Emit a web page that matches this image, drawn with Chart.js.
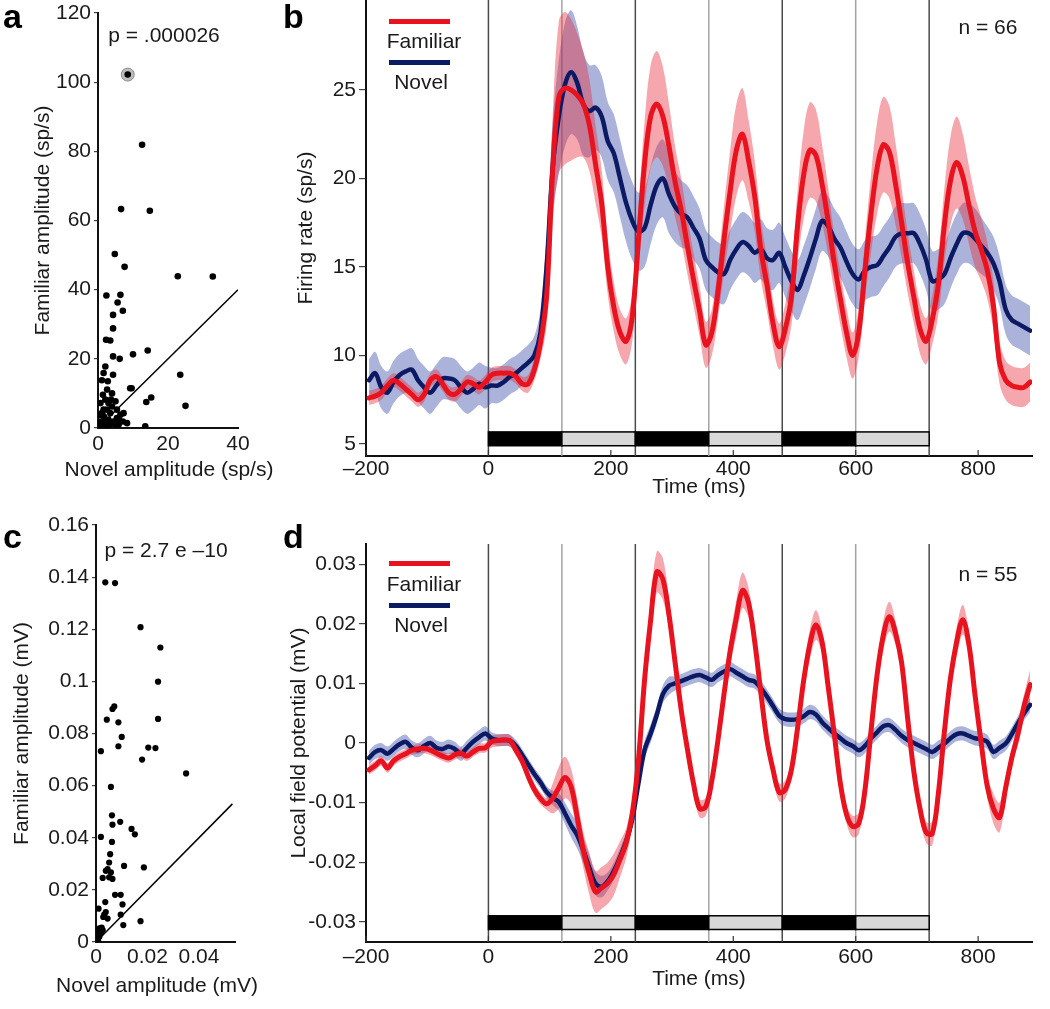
<!DOCTYPE html>
<html>
<head>
<meta charset="utf-8">
<script src="https://cdn.jsdelivr.net/npm/chart.js@4.4.1/dist/chart.umd.min.js"></script>
<style>
  body { margin: 0; background: #fff; width: 1050px; height: 1009px; position: relative; overflow: hidden;
         font-family: "Liberation Sans", Arial, Helvetica, sans-serif; color: #1a1a1a; }
  canvas { position: absolute; }
  .t { position: absolute; font-size: 21px; line-height: 1; white-space: nowrap; transform: translate(-50%, -50%); }
  .lab { position: absolute; font-size: 34px; font-weight: bold; line-height: 1; color: #000; }
  .seg { position: absolute; height: 5px; width: 61px; }
</style>
</head>
<body>
<canvas id="chartA" width="250" height="482" style="left:0;top:0"></canvas>
<canvas id="chartB" width="800" height="500" style="left:250px;top:0"></canvas>
<canvas id="chartC" width="250" height="500" style="left:0;top:500px"></canvas>
<canvas id="chartD" width="800" height="480" style="left:250px;top:520px"></canvas>

<div class="lab" style="left:3px;top:-1px">a</div>
<div class="lab" style="left:283px;top:-1px">b</div>
<div class="lab" style="left:3px;top:519px">c</div>
<div class="lab" style="left:283px;top:519px">d</div>

<div class="t" style="left:164px;top:34px">p = .000026</div>
<div class="t" style="left:169px;top:468px">Novel amplitude (sp/s)</div>
<div class="t" style="left:166px;top:549px">p = 2.7 e –10</div>
<div class="t" style="left:157px;top:984px">Novel amplitude (mV)</div>

<div class="seg" style="left:389px;top:19px;background:#e8131f"></div>
<div class="t" style="left:424px;top:40px">Familiar</div>
<div class="seg" style="left:389px;top:60px;background:#0c1a63"></div>
<div class="t" style="left:421px;top:81px">Novel</div>
<div class="t" style="left:988px;top:26px">n = 66</div>

<div class="seg" style="left:389px;top:561px;background:#e8131f"></div>
<div class="t" style="left:424px;top:583px">Familiar</div>
<div class="seg" style="left:389px;top:603px;background:#0c1a63"></div>
<div class="t" style="left:421px;top:624px">Novel</div>
<div class="t" style="left:988px;top:573px">n = 55</div>

<script>
// ---- scatter data (panel a: spikes, panel c: LFP) ----
const novelA = [8.5, 12.6, 6.6, 14.8, 4.8, 7.6, 22.8, 32.8, 2.4, 6.4,
  5.6, 7.1, 4.3, 4.3, 2.3, 3.5, 4.3, 6.2, 10, 14.2,
  2.1, 1.6, 4.3, 1.1, 23.5, 9.2, 2.6, 2.1, 3.7, 5,
  1.6, 15.2, 13.8, 25, 3.5, 6.4, 5.4, 0.7, 2.1, 3,
  4.5, 7.1, 0.2, 1.1, 13.5, 2.6, 5, 4, 0.7, 1.4,
  2.8, 4, 5.4, 7.3, 1.6, 3.5, 0.1, 5.9, 8.3, 2.6,
  1.1, 3.0, 9.6, 1.8, 6.0, 0.5];
const familiarA = [102.2, 81.9, 63.3, 62.8, 50.3, 46.6, 43.9, 43.8, 38.3, 38.5,
  36.3, 33.9, 32.7, 28.8, 25.5, 25.3, 20.7, 20, 21.3, 22.4,
  17.8, 15.9, 15.4, 13.8, 15.4, 11.5, 11.1, 8.2, 8.2, 7.7,
  5.3, 8.8, 7.5, 6.4, 4.3, 3.8, 2.9, 1.9, 1.4, 2.4,
  1.9, 1.9, 0.5, 1, 0.5, 0.5, 1, 6.2, 7.2, 9.6,
  13.5, 10, 5.3, 4.3, 3.4, 1, 1.4, 1, 1.4, 5.3,
  4.3, 7.2, 11.5, 3.0, 2.2, 3.8];
const circledA = [0];
const diagA = [0, 40];
const xTicksA = [0, 20, 40];
const yTicksA = [0, 20, 40, 60, 80, 100, 120];

const novelC = [0.0036, 0.0074, 0.0173, 0.025, 0.0241, 0.0071, 0.0064, 0.0042, 0.0087, 0.0241,
  0.0100, 0.0019, 0.0087, 0.0203, 0.0231, 0.0179, 0.0350, 0.0058, 0.0062, 0.0064,
  0.0094, 0.0138, 0.0151, 0.0019, 0.0062, 0.0055, 0.0051, 0.0109, 0.0186, 0.0045,
  0.0038, 0.0058, 0.0064, 0.0026, 0.0074, 0.0096, 0.0103, 0.0036, 0.0010, 0.0038,
  0.0028, 0.0096, 0.0106, 0.0173, 0.0013, 0.0026, 0.0006, 0.0019, 0.0003, 0.0013,
  0.0051, 0.0045, 0.0008, 0.0022, 0.0032];
const familiarC = [0.138, 0.1377, 0.1208, 0.113, 0.0999, 0.0904, 0.0894, 0.0853, 0.0843, 0.0856,
  0.0787, 0.0732, 0.0751, 0.0746, 0.0744, 0.0700, 0.0647, 0.0595, 0.0486, 0.0450,
  0.0461, 0.0434, 0.0413, 0.0403, 0.0384, 0.0337, 0.0305, 0.0292, 0.0286, 0.0280,
  0.0273, 0.0267, 0.0242, 0.0246, 0.0181, 0.0181, 0.0144, 0.0153, 0.0128, 0.0115,
  0.0096, 0.0105, 0.0065, 0.0080, 0.0052, 0.0046, 0.0033, 0.0035, 0.0014, 0.0020,
  0.0248, 0.0090, 0.0008, 0.0055, 0.0105];
const diagC = [0, 0.053];
const xTicksC = [0, 0.02, 0.04];
const yTicksC = [0, 0.02, 0.04, 0.06, 0.08, 0.1, 0.12, 0.14, 0.16];

// ---- time courses (10 ms samples) ----
const times = [-195, -185, -175, -165, -155, -145, -135, -125, -115, -105,
  -95, -85, -75, -65, -55, -45, -35, -25, -15, -5,
  5, 15, 25, 35, 45, 55, 65, 75, 85, 95,
  105, 115, 125, 135, 145, 155, 165, 175, 185, 195,
  205, 215, 225, 235, 245, 255, 265, 275, 285, 295,
  305, 315, 325, 335, 345, 355, 365, 375, 385, 395,
  405, 415, 425, 435, 445, 455, 465, 475, 485, 495,
  505, 515, 525, 535, 545, 555, 565, 575, 585, 595,
  605, 615, 625, 635, 645, 655, 665, 675, 685, 695,
  705, 715, 725, 735, 745, 755, 765, 775, 785, 795,
  805, 815, 825, 835, 845, 855, 865, 875, 885];
const timeTicks = [-200, 0, 200, 400, 600, 800];
const stimEdges = [0, 120, 240, 360, 480, 600, 720];

// panel b: firing rate (sp/s)
const famB = [7.6, 7.7, 7.9, 8.3, 8.6, 8.4, 8.1, 7.8, 7.5, 7.8,
  8.6, 8.8, 8.4, 7.9, 7.8, 8.1, 8.5, 8.4, 8.2, 8.5,
  8.9, 9.0, 9.0, 9.0, 8.8, 8.4, 8.4, 9.2, 10.7, 13.3,
  20.5, 24.6, 25.1, 25.0, 24.7, 24.2, 23.0, 20.8, 18.6, 15.0,
  12.7, 11.3, 10.8, 12.2, 16.5, 20.8, 23.5, 24.2, 23.5, 21.8,
  19.8, 18.2, 16.2, 14.3, 12.5, 10.6, 11.3, 13.6, 16.6, 19.3,
  21.6, 22.5, 21.0, 19.0, 16.0, 14.0, 11.8, 10.5, 11.5, 13.3,
  17.3, 20.2, 21.6, 21.3, 19.7, 17.6, 15.2, 13.2, 11.3, 10.0,
  11.3, 14.8, 18.0, 20.6, 21.9, 21.5, 19.7, 17.5, 15.2, 13.3,
  11.5, 10.8, 12.0, 14.0, 17.4, 19.9, 20.9, 20.1, 18.5, 17.0,
  16.0, 14.8, 12.8, 9.6, 8.6, 8.3, 8.2, 8.2, 8.5];
const famErrB = [0.4, 0.4, 0.4, 0.4, 0.4, 0.4, 0.4, 0.4, 0.4, 0.4,
  0.4, 0.4, 0.4, 0.4, 0.4, 0.4, 0.4, 0.4, 0.4, 0.4,
  0.4, 0.4, 0.4, 0.4, 0.4, 0.4, 0.5, 0.6, 0.9, 1.6,
  3.0, 4.3, 4.3, 4.0, 3.5, 3.0, 2.6, 2.2, 1.9, 1.6,
  1.4, 1.3, 1.3, 1.4, 1.8, 2.4, 2.9, 3.0, 2.8, 2.4,
  2.0, 1.8, 1.6, 1.5, 1.4, 1.3, 1.3, 1.5, 1.9, 2.3,
  2.6, 2.6, 2.3, 2.0, 1.7, 1.5, 1.3, 1.3, 1.4, 1.6,
  2.0, 2.5, 2.7, 2.6, 2.2, 1.9, 1.6, 1.5, 1.4, 1.3,
  1.4, 1.7, 2.2, 2.6, 2.7, 2.6, 2.3, 2.0, 1.7, 1.5,
  1.4, 1.3, 1.4, 1.7, 2.1, 2.5, 2.6, 2.4, 2.2, 2.0,
  1.8, 1.6, 1.4, 1.2, 1.1, 1.1, 1.1, 1.1, 1.1];
const novB = [8.6, 9.0, 8.2, 7.9, 8.5, 8.9, 9.1, 9.2, 8.6, 8.2,
  7.9, 8.3, 8.7, 8.7, 8.6, 8.2, 7.9, 8.1, 8.4, 8.2,
  8.3, 8.3, 8.5, 8.8, 9.0, 9.3, 9.6, 10.0, 11.3, 15.0,
  20.6, 23.5, 25.3, 26.0, 25.4, 24.2, 23.8, 24.0, 23.5, 22.1,
  21.4, 20.0, 18.6, 17.6, 17.0, 17.2, 18.5, 19.6, 20.0, 19.1,
  18.4, 18.0, 17.8, 17.2, 16.6, 15.4, 15.0, 14.7, 14.6, 15.4,
  16.0, 16.4, 16.2, 15.8, 16.0, 15.5, 15.4, 15.8, 15.0, 14.2,
  13.7, 14.5, 15.5, 16.6, 17.6, 17.3, 16.6, 16.1, 15.3, 14.6,
  14.3, 14.8, 15.0, 15.1, 15.6, 16.1, 16.7, 16.9, 16.9, 16.9,
  16.3, 15.4, 14.2, 14.3, 14.6, 15.5, 16.3, 16.9, 16.9, 16.6,
  16.2, 15.8, 15.2, 14.2, 12.6, 12.0, 11.8, 11.6, 11.4];
const novErrB = [1.2, 1.2, 1.2, 1.2, 1.2, 1.2, 1.2, 1.2, 1.2, 1.2,
  1.2, 1.2, 1.2, 1.2, 1.2, 1.2, 1.2, 1.2, 1.2, 1.2,
  1.0, 1.0, 1.0, 1.0, 1.0, 1.0, 1.0, 1.1, 1.3, 1.8,
  2.6, 3.2, 3.5, 3.5, 3.2, 2.9, 2.6, 2.4, 2.3, 2.2,
  2.2, 2.2, 2.2, 2.2, 2.2, 2.2, 2.2, 2.2, 2.2, 2.2,
  2.0, 1.9, 1.8, 1.8, 1.7, 1.7, 1.7, 1.7, 1.7, 1.7,
  1.7, 1.7, 1.7, 1.7, 1.7, 1.7, 1.7, 1.7, 1.7, 1.7,
  1.7, 1.7, 1.7, 1.7, 1.7, 1.7, 1.7, 1.7, 1.7, 1.7,
  1.7, 1.7, 1.7, 1.7, 1.7, 1.7, 1.7, 1.7, 1.7, 1.7,
  1.7, 1.7, 1.7, 1.7, 1.7, 1.7, 1.7, 1.7, 1.7, 1.7,
  1.6, 1.5, 1.5, 1.4, 1.4, 1.4, 1.4, 1.4, 1.4];
const yTicksB = [5, 10, 15, 20, 25];
const barB = [4.9, 5.68];

// panel d: local field potential (mV)
const famD = [-0.0045, -0.0038, -0.0030, -0.0042, -0.0030, -0.0023, -0.0018, -0.0012, -0.0010, -0.0009,
  -0.0012, -0.0017, -0.0022, -0.0025, -0.0020, -0.0017, -0.0022, -0.0015, -0.0009, -0.0008,
  0.0002, 0.0004, 0.0005, 0.0004, -0.0012, -0.0030, -0.0056, -0.0078, -0.0093, -0.0102,
  -0.0093, -0.0075, -0.0058, -0.0073, -0.0124, -0.0180, -0.0220, -0.0250, -0.0243, -0.0235,
  -0.0220, -0.0195, -0.0168, -0.0118, -0.0030, 0.0105, 0.0206, 0.0287, 0.0275, 0.0215,
  0.0135, 0.0055, -0.0010, -0.0068, -0.0110, -0.0107, -0.0063, 0.0005, 0.0083, 0.0155,
  0.0210, 0.0256, 0.0235, 0.0170, 0.0085, 0.0005, -0.0045, -0.0083, -0.0078, -0.0045,
  0.0025, 0.0105, 0.0165, 0.0198, 0.0170, 0.0095, 0.0015, -0.0068, -0.0120, -0.0140,
  -0.0135, -0.0080, 0.0020, 0.0115, 0.0180, 0.0212, 0.0185, 0.0135, 0.0040, -0.0048,
  -0.0110, -0.0150, -0.0152, -0.0085, 0.0020, 0.0110, 0.0170, 0.0207, 0.0165, 0.0080,
  0.0000, -0.0073, -0.0110, -0.0125, -0.0075, -0.0025, 0.0015, 0.0062, 0.0098];
const famErrD = [0.0008, 0.0008, 0.0008, 0.0008, 0.0008, 0.0008, 0.0008, 0.0008, 0.0008, 0.0008,
  0.0008, 0.0008, 0.0008, 0.0008, 0.0008, 0.0008, 0.0008, 0.0008, 0.0008, 0.0008,
  0.0010, 0.0010, 0.0010, 0.0010, 0.0010, 0.0010, 0.0010, 0.0010, 0.0010, 0.0010,
  0.0025, 0.0035, 0.0035, 0.0030, 0.0030, 0.0030, 0.0035, 0.0035, 0.0035, 0.0035,
  0.0035, 0.0030, 0.0025, 0.0020, 0.0020, 0.0025, 0.0030, 0.0035, 0.0035, 0.0025,
  0.0020, 0.0015, 0.0015, 0.0015, 0.0015, 0.0015, 0.0015, 0.0015, 0.0020, 0.0025,
  0.0030, 0.0030, 0.0025, 0.0020, 0.0015, 0.0015, 0.0015, 0.0015, 0.0015, 0.0015,
  0.0015, 0.0020, 0.0025, 0.0025, 0.0020, 0.0015, 0.0015, 0.0015, 0.0015, 0.0018,
  0.0018, 0.0015, 0.0015, 0.0020, 0.0025, 0.0025, 0.0020, 0.0015, 0.0015, 0.0015,
  0.0015, 0.0018, 0.0020, 0.0015, 0.0015, 0.0020, 0.0025, 0.0025, 0.0020, 0.0015,
  0.0015, 0.0018, 0.0025, 0.0025, 0.0020, 0.0015, 0.0018, 0.0020, 0.0025];
const novD = [-0.0025, -0.0015, -0.0012, -0.0018, -0.0010, -0.0002, 0.0002, -0.0008, -0.0012, -0.0005,
  0.0000, -0.0008, -0.0010, -0.0006, -0.0010, -0.0018, -0.0008, 0.0002, 0.0010, 0.0016,
  0.0008, 0.0005, 0.0005, 0.0004, -0.0005, -0.0020, -0.0036, -0.0052, -0.0066, -0.0082,
  -0.0092, -0.0099, -0.0118, -0.0138, -0.0155, -0.0180, -0.0210, -0.0236, -0.0241, -0.0232,
  -0.0215, -0.0192, -0.0165, -0.0128, -0.0068, -0.0012, 0.0016, 0.0047, 0.0082, 0.0096,
  0.0100, 0.0104, 0.0108, 0.0112, 0.0114, 0.0110, 0.0106, 0.0114, 0.0120, 0.0124,
  0.0118, 0.0112, 0.0106, 0.0103, 0.0092, 0.0078, 0.0062, 0.0046, 0.0040, 0.0039,
  0.0040, 0.0045, 0.0052, 0.0048, 0.0035, 0.0025, 0.0016, 0.0008, 0.0000, -0.0005,
  -0.0012, -0.0005, 0.0008, 0.0018, 0.0028, 0.0030, 0.0022, 0.0012, 0.0005, 0.0000,
  -0.0005, -0.0010, -0.0015, -0.0008, -0.0001, 0.0008, 0.0015, 0.0016, 0.0012, 0.0008,
  0.0006, 0.0002, -0.0015, -0.0008, -0.0001, 0.0015, 0.0033, 0.0050, 0.0064];
const novErrD = [0.0012, 0.0012, 0.0012, 0.0012, 0.0012, 0.0012, 0.0012, 0.0012, 0.0012, 0.0012,
  0.0012, 0.0012, 0.0012, 0.0012, 0.0012, 0.0012, 0.0012, 0.0012, 0.0012, 0.0012,
  0.0010, 0.0010, 0.0010, 0.0010, 0.0010, 0.0010, 0.0010, 0.0010, 0.0010, 0.0010,
  0.0012, 0.0015, 0.0018, 0.0020, 0.0022, 0.0022, 0.0022, 0.0020, 0.0018, 0.0015,
  0.0015, 0.0015, 0.0015, 0.0015, 0.0015, 0.0015, 0.0015, 0.0015, 0.0015, 0.0015,
  0.0012, 0.0012, 0.0012, 0.0012, 0.0012, 0.0012, 0.0012, 0.0012, 0.0012, 0.0012,
  0.0012, 0.0012, 0.0012, 0.0012, 0.0012, 0.0012, 0.0012, 0.0012, 0.0012, 0.0012,
  0.0012, 0.0012, 0.0012, 0.0012, 0.0012, 0.0012, 0.0012, 0.0012, 0.0012, 0.0012,
  0.0012, 0.0012, 0.0012, 0.0012, 0.0012, 0.0012, 0.0012, 0.0012, 0.0012, 0.0012,
  0.0012, 0.0012, 0.0012, 0.0012, 0.0012, 0.0012, 0.0012, 0.0012, 0.0012, 0.0012,
  0.0012, 0.0012, 0.0012, 0.0012, 0.0012, 0.0012, 0.0012, 0.0012, 0.0012];
const yTicksD = [-0.03, -0.02, -0.01, 0, 0.01, 0.02, 0.03];
const barD = [-0.0313, -0.0290];

const RED = '#e8131f';
const NAVY = '#0c1a63';
const RED_BAND = 'rgba(232, 45, 60, 0.42)';
const NAVY_BAND = 'rgba(55, 75, 170, 0.42)';

Chart.defaults.font.family = '"Liberation Sans", Arial, Helvetica, sans-serif';
Chart.defaults.font.size = 21;
Chart.defaults.color = '#1a1a1a';
Chart.defaults.animation = false;
Chart.defaults.plugins.legend.display = false;
Chart.defaults.plugins.tooltip.enabled = false;

function pts(xs, ys) {
  return xs.map((x, i) => ({ x: x, y: ys[i] }));
}
function shift(vals, errs, sign) {
  return vals.map((v, i) => v + sign * errs[i]);
}
function fixedTicks(list) {
  return s => { s.ticks = list.map(v => ({ value: v })); };
}
function fmtNum(v) {
  const n = +Number(v).toFixed(4);
  return n === 0 ? '0' : String(n);
}
function fmtTime(v) {
  return v < 0 ? '\u2013' + Math.abs(v) : String(v);
}

function yAxis(min, max, list, title, titlePad, width, tickLen) {
  return {
    type: 'linear', min: min, max: max,
    afterBuildTicks: fixedTicks(list),
    afterFit: s => { s.width = width; s.paddingTop = 0; s.paddingBottom = 0; },
    border: { display: true, color: '#111', width: 2 },
    grid: { display: true, drawOnChartArea: false, drawTicks: true, tickLength: tickLen, color: '#444', lineWidth: 1.2 },
    ticks: { padding: 3, callback: fmtNum },
    title: { display: true, text: title, padding: { top: titlePad, bottom: 0 } }
  };
}

function xAxis(min, max, list, height, fmt, tickPad, title, titlePad) {
  return {
    type: 'linear', min: min, max: max,
    afterBuildTicks: fixedTicks(list),
    afterFit: s => { s.height = height; s.paddingLeft = 0; s.paddingRight = 0; },
    border: { display: true, color: '#111', width: 2 },
    grid: { display: false },
    ticks: { padding: tickPad, maxRotation: 0, autoSkip: false, callback: fmt },
    title: { display: !!title, text: title || '', padding: { top: 0, bottom: titlePad || 0 } }
  };
}

// stimulus onset lines, stimulus bar and the inward x ticks
function stimPlugin(bar) {
  return {
    id: 'stim',
    beforeDatasetsDraw(chart) {
      const { ctx, chartArea: area, scales: { x, y } } = chart;
      ctx.save();
      stimEdges.forEach((t, i) => {
        const px = x.getPixelForValue(t);
        ctx.strokeStyle = i % 2 === 0 ? '#4a4a4a' : '#a3a3a3';
        ctx.lineWidth = 1.5;
        ctx.beginPath();
        ctx.moveTo(px, area.top);
        ctx.lineTo(px, area.bottom);
        ctx.stroke();
      });
      const yTop = y.getPixelForValue(bar[1]);
      const yBot = y.getPixelForValue(bar[0]);
      for (let i = 0; i < stimEdges.length - 1; i++) {
        const x0 = x.getPixelForValue(stimEdges[i]);
        const x1 = x.getPixelForValue(stimEdges[i + 1]);
        ctx.fillStyle = i % 2 === 0 ? '#000' : '#d8d8d8';
        ctx.fillRect(x0, yTop, x1 - x0, yBot - yTop);
        ctx.strokeStyle = '#000';
        ctx.lineWidth = 1.5;
        ctx.strokeRect(x0, yTop, x1 - x0, yBot - yTop);
      }
      ctx.strokeStyle = '#333';
      ctx.lineWidth = 1.2;
      timeTicks.forEach(t => {
        const px = x.getPixelForValue(t);
        ctx.beginPath();
        ctx.moveTo(px, area.bottom);
        ctx.lineTo(px, area.bottom - 6);
        ctx.stroke();
      });
      ctx.restore();
    }
  };
}

function traceSets(fam, famErr, nov, novErr) {
  return [
    { data: pts(times, fam), borderColor: RED, borderWidth: 5, order: 0 },
    { data: pts(times, nov), borderColor: NAVY, borderWidth: 4.5, order: 1 },
    { data: pts(times, shift(fam, famErr, 1)), borderWidth: 0, borderColor: 'transparent', backgroundColor: RED_BAND, fill: '+1', order: 2 },
    { data: pts(times, shift(fam, famErr, -1)), borderWidth: 0, borderColor: 'transparent', fill: false, order: 3 },
    { data: pts(times, shift(nov, novErr, 1)), borderWidth: 0, borderColor: 'transparent', backgroundColor: NAVY_BAND, fill: '+1', order: 4 },
    { data: pts(times, shift(nov, novErr, -1)), borderWidth: 0, borderColor: 'transparent', fill: false, order: 5 }
  ];
}

const lineElements = {
  point: { radius: 0 },
  line: { tension: 0.35, borderCapStyle: 'round', borderJoinStyle: 'round' }
};

function scatterSets(xs, ys, circled, diag, dotR) {
  return [
    { type: 'line', data: pts(diag, diag), borderColor: '#000', borderWidth: 1.5, pointRadius: 0, order: 0 },
    { data: pts(xs, ys), pointRadius: dotR, backgroundColor: '#000', borderWidth: 0, order: 1 },
    { data: circled.map(i => ({ x: xs[i], y: ys[i] })), pointRadius: 6.5, backgroundColor: '#bdbdbd', borderColor: '#8a8a8a', borderWidth: 1, order: 2 }
  ];
}

// panel a
new Chart(document.getElementById('chartA'), {
  type: 'scatter',
  data: { datasets: scatterSets(novelA, familiarA, circledA, diagA, 3.3) },
  options: {
    responsive: false,
    layout: { padding: { top: 13, right: 12, left: 0, bottom: 0 } },
    scales: {
      x: xAxis(0, 40, xTicksA, 54, fmtNum, -4),
      y: yAxis(0, 120, yTicksA, 'Familiar amplitude (sp/s)', 31, 98, 4)
    }
  }
});

// panel c
new Chart(document.getElementById('chartC'), {
  type: 'scatter',
  data: { datasets: scatterSets(novelC, familiarC, [], diagC, 3.1) },
  options: {
    responsive: false,
    layout: { padding: { top: 25, right: 15, left: 0, bottom: 0 } },
    scales: {
      x: xAxis(0, 0.054, xTicksC, 58, fmtNum, -5),
      y: yAxis(0, 0.16, yTicksC, 'Familiar amplitude (mV)', 10, 96, 4)
    }
  }
});

// panel b
new Chart(document.getElementById('chartB'), {
  type: 'line',
  data: { datasets: traceSets(famB, famErrB, novB, novErrB) },
  options: {
    responsive: false,
    elements: lineElements,
    layout: { padding: { top: 0, right: 18, left: 0, bottom: 0 } },
    scales: {
      x: xAxis(-200, 888, timeTicks, 44, fmtTime, -7, 'Time (ms)', 0),
      y: yAxis(4.32, 30.08, yTicksB, 'Firing rate (sp/s)', 44, 116, 7)
    }
  },
  plugins: [stimPlugin(barB)]
});

// panel d
new Chart(document.getElementById('chartD'), {
  type: 'line',
  data: { datasets: traceSets(famD, famErrD, novD, novErrD) },
  options: {
    responsive: false,
    elements: lineElements,
    layout: { padding: { top: 24, right: 18, left: 0, bottom: 0 } },
    scales: {
      x: xAxis(-200, 888, timeTicks, 58, fmtTime, -5, 'Time (ms)', 8),
      y: yAxis(-0.0334, 0.0334, yTicksD, 'Local field potential (mV)', 37, 116, 7)
    }
  },
  plugins: [stimPlugin(barD)]
});
</script>
</body>
</html>
